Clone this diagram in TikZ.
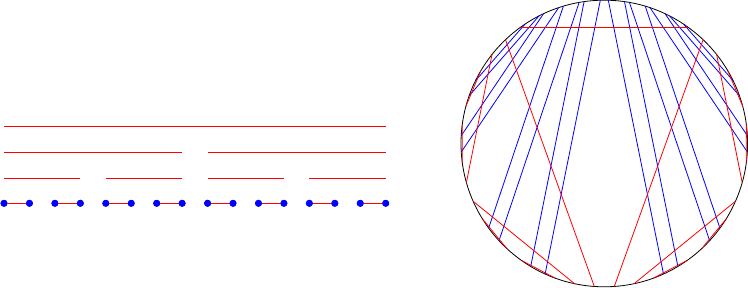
\documentclass[tikz,border=0pt]{standalone}
\usetikzlibrary{calc}
\begin{document}
\begin{tikzpicture}[x=0.75pt,y=0.75pt,
  redline/.style={red, line width=0.6pt},
  blueline/.style={blue, line width=0.6pt},
  rim/.style={black, line width=0.6pt},
  dotnode/.style={circle, fill=blue, inner sep=0pt, minimum size=5.2pt}]
\useasboundingbox (0,0) rectangle (748,288);
% ---------- left: intervals ----------
\foreach \i in {1,...,16} {
  \node[dotnode] (d\i) at ({4+25.447*(\i-1)},84.7) {};
}
\foreach \a/\b in {1/2,3/4,5/6,7/8,9/10,11/12,13/14,15/16} {
  \draw[redline] (d\a.center) -- (d\b.center);
}
\foreach \i in {1,...,16} { \node[dotnode] at (d\i) {}; }
% level lines
\foreach \a/\b in {1/4,5/8,9/12,13/16} {
  \coordinate (p\a) at ($(d\a)+(0,25.3)$);
  \coordinate (q\b) at ($(d\b)+(0,25.3)$);
  \draw[redline] (p\a) -- (q\b);
}
\foreach \a/\b in {1/8,9/16} {
  \coordinate (r\a) at ($(d\a)+(0,51)$);
  \coordinate (s\b) at ($(d\b)+(0,51)$);
  \draw[redline] (r\a) -- (s\b);
}
\coordinate (t1) at ($(d1)+(0,76.6)$);
\coordinate (t16) at ($(d16)+(0,76.6)$);
\draw[redline] (t1) -- (t16);
% ---------- right: chord diagram ----------
\coordinate (O) at (604.3,144.5);
\def\R{143.3}
\draw[rim] (O) circle[radius=\R];
\foreach \n/\a in {A3/125.6, A2s/133.6, A2e/266.0,
  A1s/141.6, A1e/195.8, A1t/203.8, A1u/258.0,
  Z1s/149.6, Z1e/164.9, Z2s/172.5, Z2e/187.8,
  Z3s/211.8, Z3e/227.1, Z4s/234.7, Z4e/250.0,
  P1/154.0, P2/160.5, P3/176.9, P4/183.4,
  P5/216.2, P6/222.7, P7/239.1, P8/245.6,
  T1/123.6, T2/117.1, T3/115.1, T4/108.6,
  T5/106.6, T6/100.1, T7/98.1, T8/91.6} {
  \coordinate (\n l) at ($(O)+(\a:\R)$);
  \coordinate (\n r) at ($(O)+({180-\a}:\R)$);
}
% blue chords
\foreach \i in {1,...,8} {
  \draw[blueline] (P\i l) -- (T\i l);
  \draw[blueline] (P\i r) -- (T\i r);
}
% red chords
\draw[redline] (A3l) -- (A3r);
\foreach \s in {l,r} {
  \draw[redline] (A2s\s) -- (A2e\s);
  \draw[redline] (A1s\s) -- (A1e\s);
  \draw[redline] (A1t\s) -- (A1u\s);
  \draw[redline] (Z1s\s) -- (Z1e\s);
  \draw[redline] (Z2s\s) -- (Z2e\s);
  \draw[redline] (Z3s\s) -- (Z3e\s);
  \draw[redline] (Z4s\s) -- (Z4e\s);
}
\end{tikzpicture}
\end{document}
